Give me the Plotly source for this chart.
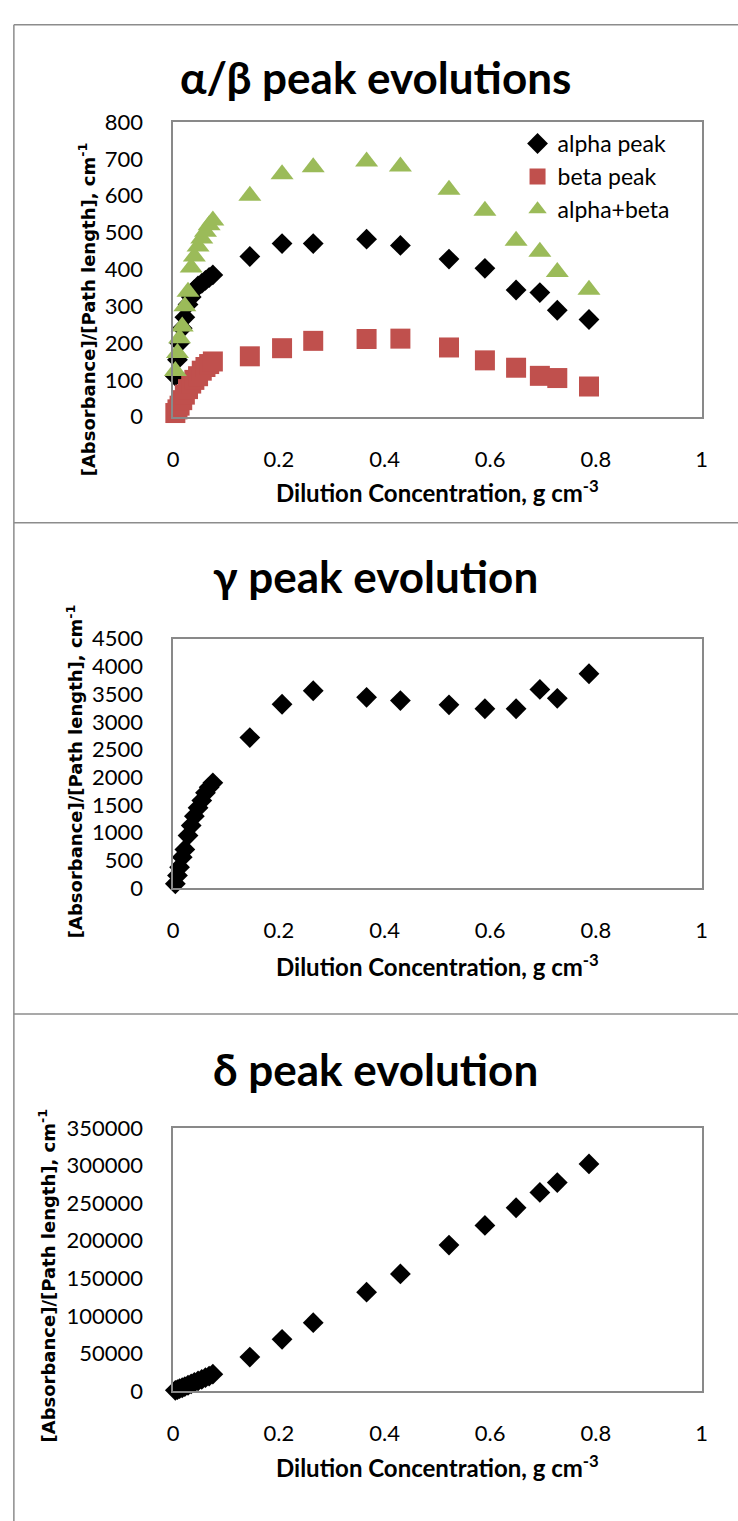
import plotly.graph_objects as go

# ---------------- data ----------------
conc = [0.004, 0.008, 0.012, 0.017, 0.022, 0.028, 0.034, 0.040, 0.047, 0.054, 0.061, 0.068, 0.075,
        0.145, 0.206, 0.265, 0.366, 0.430, 0.522, 0.590, 0.649, 0.694, 0.727, 0.787]

alpha_peak = [110, 155, 200, 240, 270, 305, 325, 345, 355, 362, 370, 378, 385,
              435, 470, 470, 482, 465, 428, 403, 344, 337, 289, 264]
beta_peak = [10, 20, 30, 45, 60, 75, 90, 100, 110, 125, 135, 143, 150,
             164, 186, 206, 211, 212, 188, 153, 133, 111, 105, 82]
alpha_beta = [124, 173, 213, 245, 300, 339, 405, 435, 462, 484, 502, 520, 533,
              600, 658, 677, 693, 679, 616, 559, 478, 448, 393, 345]

gamma_peak = [80, 230, 380, 560, 700, 950, 1130, 1300, 1450, 1580, 1720, 1820, 1900,
              2716, 3318, 3561, 3443, 3384, 3308, 3237, 3237, 3585, 3425, 3868]

delta_peak = [1000, 2000, 3200, 4500, 6000, 7800, 9500, 11500, 13500, 15500, 17800, 20000, 22500,
              45300, 68800, 91000, 131500, 155800, 194200, 220300, 243800, 264200, 277300, 302100]

titles = ["α/β peak evolutions", "γ peak evolution", "δ peak evolution"]
y_title = "[Absorbance]/[Path length], cm<sup>-1</sup>"
x_title = "Dilution Concentration, g cm<sup>-3</sup>"
y_ranges = [(0, 800, 100), (0, 4500, 500), (0, 350000, 50000)]

# ---------------- layout geometry (pixels) ----------------
W, H = 738, 1521
px_x = lambda p: p / W
px_y = lambda p: 1 - p / H

plot_left, plot_right = 170, 707
plot_boxes = [(110, 410), (636, 890), (1134, 1402)]
title_y = [64, 572, 1074]
ytitle_pos = [(82, 301), (70, 771), (42, 1284)]
xtitle_y = [486, 968, 1478]

BLACK = "#000000"
RED = "#C0504D"
GREEN = "#9BBB59"
AXIS_GRAY = "#898989"
FONT = "Lato, Open Sans, sans-serif"

fig = go.Figure()

fig.add_trace(go.Scatter(x=conc, y=alpha_peak, mode="markers", name="alpha peak",
                         marker=dict(symbol="diamond", size=16, color=BLACK, line=dict(width=0)),
                         cliponaxis=False, xaxis="x", yaxis="y"))
fig.add_trace(go.Scatter(x=conc, y=beta_peak, mode="markers", name="beta peak",
                         marker=dict(symbol="square", size=20, color=RED, line=dict(width=0)),
                         cliponaxis=False, xaxis="x", yaxis="y"))
fig.add_trace(go.Scatter(x=conc, y=alpha_beta, mode="markers", name="alpha+beta",
                         marker=dict(symbol="triangle-up", size=20, color=GREEN, line=dict(width=0)),
                         cliponaxis=False, xaxis="x", yaxis="y"))
fig.add_trace(go.Scatter(x=conc, y=gamma_peak, mode="markers", name="gamma",
                         marker=dict(symbol="diamond", size=16, color=BLACK, line=dict(width=0)),
                         cliponaxis=False, showlegend=False, xaxis="x2", yaxis="y2"))
fig.add_trace(go.Scatter(x=conc, y=delta_peak, mode="markers", name="delta",
                         marker=dict(symbol="diamond", size=16, color=BLACK, line=dict(width=0)),
                         cliponaxis=False, showlegend=False, xaxis="x3", yaxis="y3"))

layout = dict(
    width=W, height=H,
    margin=dict(l=0, r=0, t=0, b=0),
    paper_bgcolor="white", plot_bgcolor="white",
    font=dict(family=FONT, color="black", size=22),
    showlegend=True,
    legend=dict(x=px_x(520), y=px_y(110), xanchor="left", yanchor="top",
                bgcolor="rgba(0,0,0,0)", font=dict(family=FONT, size=23, color="black"),
                tracegroupgap=0, itemsizing="trace"),
)

annotations = []
shapes = []
for i in range(3):
    sfx = "" if i == 0 else str(i + 1)
    top, bot = plot_boxes[i]
    y0, y1, dt = y_ranges[i]
    layout["xaxis" + sfx] = dict(
        domain=[px_x(plot_left), px_x(plot_right)], anchor="y" + sfx,
        range=[0, 1], dtick=0.2, tick0=0, showgrid=False, zeroline=False,
        showline=True, mirror=True, linecolor=AXIS_GRAY, linewidth=1.5,
        ticks="", ticklabelstandoff=22, tickfont=dict(family=FONT, size=22, color="black"),
    )
    layout["yaxis" + sfx] = dict(
        domain=[px_y(bot), px_y(top)], anchor="x" + sfx,
        range=[y0, y1], dtick=dt, tick0=0, showgrid=False, zeroline=False,
        showline=True, mirror=True, linecolor=AXIS_GRAY, linewidth=1.5,
        ticks="", ticklabelstandoff=24, tickformat="d",
        tickfont=dict(family=FONT, size=22, color="black"),
    )
    annotations.append(dict(text="<b>%s</b>" % titles[i], x=px_x(376), y=px_y(title_y[i]),
                            xref="paper", yref="paper", xanchor="center", yanchor="middle",
                            showarrow=False, font=dict(family=FONT, size=44, color="black")))
    yx, yy = ytitle_pos[i]
    annotations.append(dict(text="<b>%s</b>" % y_title, x=px_x(yx), y=px_y(yy),
                            xref="paper", yref="paper", xanchor="center", yanchor="middle",
                            textangle=-90, showarrow=False,
                            font=dict(family="DejaVu Sans", size=18, color="black")))
    annotations.append(dict(text="<b>%s</b>" % x_title, x=px_x(439), y=px_y(xtitle_y[i]),
                            xref="paper", yref="paper", xanchor="center", yanchor="middle",
                            showarrow=False, font=dict(family=FONT, size=24, color="black")))

# panel borders
border = dict(color="#8C8C8C", width=1.5)
for yl in [11, 518, 1018]:
    shapes.append(dict(type="line", xref="paper", yref="paper",
                       x0=px_x(8), x1=1.01, y0=px_y(yl), y1=px_y(yl), line=border))
shapes.append(dict(type="line", xref="paper", yref="paper",
                   x0=px_x(8), x1=px_x(8), y0=px_y(11), y1=-0.01, line=border))

layout["annotations"] = annotations
layout["shapes"] = shapes
fig.update_layout(**layout)

fig.write_html("out.html",
               post_script="document.body.style.margin='0';document.body.style.padding='0';")
